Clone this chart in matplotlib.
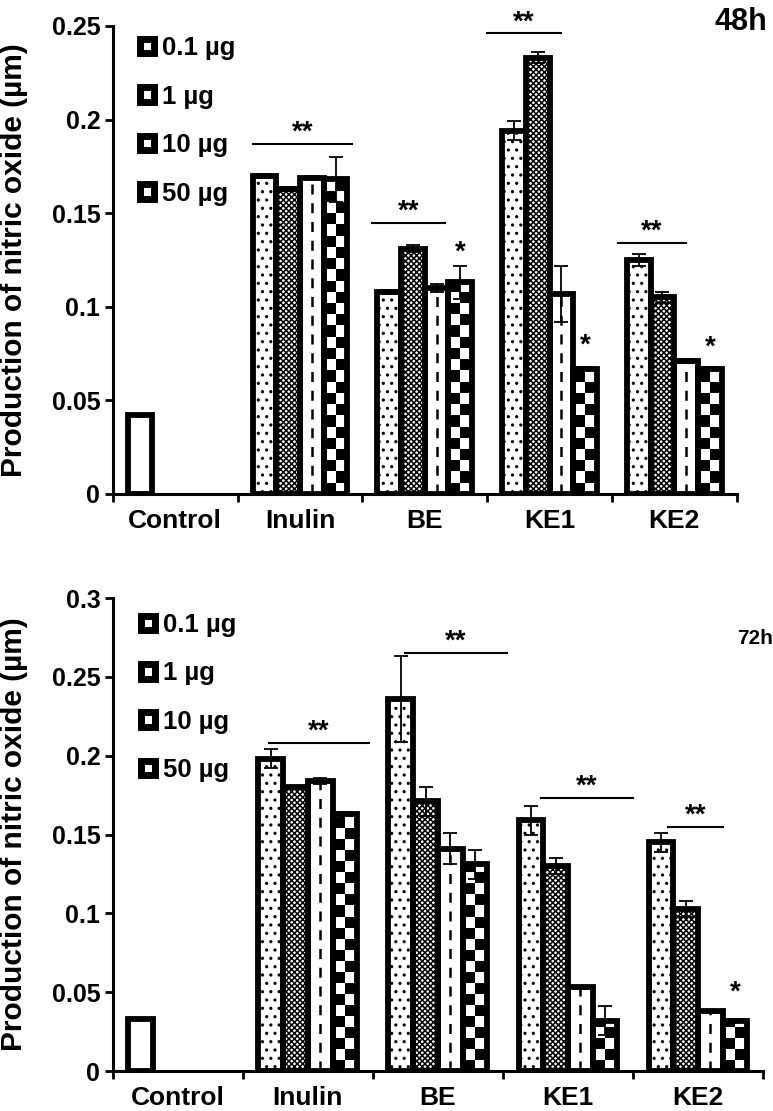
import numpy as np
import matplotlib
matplotlib.use("Agg")
import matplotlib.pyplot as plt
from matplotlib.patches import Patch

plt.rcParams['font.family'] = ['Liberation Sans', 'DejaVu Sans']
plt.rcParams['font.weight'] = 'bold'
plt.rcParams['hatch.linewidth'] = 1.1

# ---- data ----
groups = ['Control', 'Inulin', 'BE', 'KE1', 'KE2']
doses = ['0.1 µg', '1 µg', '10 µg', '50 µg']

control_48h = 0.042
nitric_48h = [
    [0.170, 0.108, 0.194, 0.125],   # 0.1 ug
    [0.163, 0.131, 0.233, 0.105],   # 1 ug
    [0.169, 0.110, 0.107, 0.071],   # 10 ug
    [0.168, 0.113, 0.067, 0.067],   # 50 ug
]
err_48h = [
    [0.001, 0.001, 0.005, 0.003],
    [0.001, 0.002, 0.003, 0.003],
    [0.001, 0.002, 0.015, 0.001],
    [0.012, 0.009, 0.001, 0.001],
]

control_72h = 0.033
nitric_72h = [
    [0.198, 0.236, 0.159, 0.145],
    [0.180, 0.171, 0.130, 0.103],
    [0.184, 0.141, 0.053, 0.038],
    [0.163, 0.131, 0.032, 0.032],
]
err_72h = [
    [0.006, 0.027, 0.009, 0.006],
    [0.001, 0.009, 0.005, 0.005],
    [0.002, 0.010, 0.001, 0.001],
    [0.001, 0.009, 0.009, 0.001],
]

yticks_48h = [0, 0.05, 0.1, 0.15, 0.2, 0.25]
ylabels_48h = ['0', '0.05', '0.1', '0.15', '0.2', '0.25']
yticks_72h = [0, 0.05, 0.1, 0.15, 0.2, 0.25, 0.3]
ylabels_72h = ['0', '0.05', '0.1', '0.15', '0.2', '0.25', '0.3']

# significance brackets (x start, x end, height) and single stars (group, height)
sig_48h = [(0.62, 1.42, 0.187), (1.58, 2.16, 0.145), (2.50, 3.09, 0.246), (3.55, 4.09, 0.134)]
star_48h = [(2, 0.129), (3, 0.079), (4, 0.078)]
sig_72h = [(0.70, 1.47, 0.208), (1.75, 2.53, 0.265), (2.79, 3.50, 0.173), (3.77, 4.19, 0.155)]
star_72h = [(4, 0.050)]

hatches = ['..', 'xxxxxx', None, None]
W = 0.19
EDGE = 4.2


def draw_panel(ax, control, values, errors, yticks, ylabels, sigs, stars, cell_h, leg_y):
    x = np.arange(len(groups))
    offsets = (np.arange(len(doses)) - 1.5) * W

    # control bar (first slot only)
    ax.bar(x[0] + offsets[0], control, W, facecolor='white', edgecolor='black',
           linewidth=EDGE, zorder=3)
    ax.errorbar(x[0] + offsets[0], control, yerr=0.0005, fmt='none', ecolor='black',
                elinewidth=1.2, capsize=4, zorder=4)

    for k in range(len(doses)):
        xs = x[1:] + offsets[k]
        vals = np.array(values[k])
        # fill + hatch
        ax.bar(xs, vals, W, facecolor='white', edgecolor='black', linewidth=0,
               hatch=hatches[k], zorder=2)
        if k == 2:
            ax.vlines(xs, 0, vals, colors='black', linestyles=(0, (4, 3.5)),
                      linewidth=1.8, zorder=2.5)
        if k == 3:
            # big checkerboard
            for xi, h in zip(xs, vals):
                bottoms = np.arange(0, h, cell_h)
                heights = np.minimum(bottoms + cell_h, h) - bottoms
                left = np.where(np.arange(len(bottoms)) % 2 == 0, xi - W / 4, xi + W / 4)
                ax.bar(left, heights, W / 2, bottom=bottoms, color='black',
                       linewidth=0, zorder=2.5)
        # outline
        ax.bar(xs, vals, W, facecolor='none', edgecolor='black', linewidth=EDGE, zorder=3)
        ax.errorbar(xs, vals, yerr=errors[k], fmt='none', ecolor='black',
                    elinewidth=1.3, capsize=5, capthick=1.3, zorder=4)

    for x0, x1, y in sigs:
        ax.plot([x0, x1], [y, y], color='black', linewidth=1.5, zorder=4)
        ax.text((x0 + x1) / 2, y - 0.001, '**', ha='center', va='bottom', fontsize=20,
                fontweight='bold')
    for g, y in stars:
        ax.text(g + offsets[3], y, '*', ha='center', va='center', fontsize=20,
                fontweight='bold')

    ax.set_xlim(-0.5, len(groups) - 0.5)
    ax.set_ylim(yticks[0], yticks[-1])
    ax.set_yticks(yticks)
    ax.set_yticklabels(ylabels, fontsize=18, fontweight='bold')
    ax.set_xticks(x)
    ax.set_xticklabels(groups, fontsize=19, fontweight='bold')
    ax.set_xticks(np.arange(len(groups) + 1) - 0.5, minor=True)
    ax.tick_params(axis='x', which='major', length=0, pad=11)
    ax.tick_params(axis='x', which='minor', length=6, width=2, direction='out')
    ax.tick_params(axis='y', length=6, width=2, direction='out', pad=3)
    for s in ['top', 'right']:
        ax.spines[s].set_visible(False)
    for s in ['left', 'bottom']:
        ax.spines[s].set_linewidth(2.2)
    ax.set_ylabel('Production of nitric oxide (µm)', fontsize=21.5, fontweight='bold')

    handles = [Patch(facecolor='white', edgecolor='black', linewidth=5, hatch=None,
                     joinstyle='round')
               for k in range(len(doses))]
    return ax.legend(handles, doses, loc='upper left', bbox_to_anchor=(0.027, leg_y),
                     frameon=False, prop={'size': 18.5, 'weight': 'bold'},
                     handlelength=0.55, handleheight=0.5, labelspacing=0.95,
                     handletextpad=0.3, borderaxespad=0.0)


fig = plt.figure(figsize=(7.73, 11.11), dpi=100)
ax1 = fig.add_axes([0.146, 0.5554, 0.807, 0.4212])
ax2 = fig.add_axes([0.146, 0.036, 0.841, 0.4257])

draw_panel(ax1, control_48h, nitric_48h, err_48h, yticks_48h, ylabels_48h,
           sig_48h, star_48h, 0.006, 1.0)
draw_panel(ax2, control_72h, nitric_72h, err_72h, yticks_72h, ylabels_72h,
           sig_72h, star_72h, 0.007, 0.99)

ax1.text(0.965, 1.04, '48h', transform=ax1.transAxes, ha='left', va='top',
         fontsize=22, fontweight='bold')
ax2.text(0.96, 0.935, '72h', transform=ax2.transAxes, ha='left', va='top',
         fontsize=15, fontweight='bold')
ax1.yaxis.set_label_coords(-0.136, 0.5)
ax2.yaxis.set_label_coords(-0.131, 0.5)

fig.savefig('out.png', dpi=100, facecolor='white')
